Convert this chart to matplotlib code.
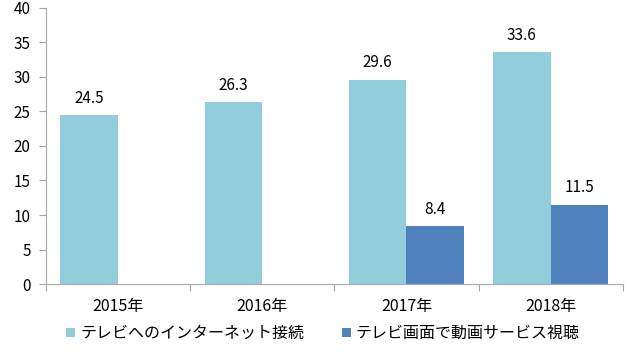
import numpy as np
import matplotlib
matplotlib.use("Agg")
import matplotlib.pyplot as plt

plt.rcParams['font.family'] = ['Noto Sans CJK JP', 'DejaVu Sans']

years = ["2015年", "2016年", "2017年", "2018年"]
netConnect = [24.5, 26.3, 29.6, 33.6]
videoService = [np.nan, np.nan, 8.4, 11.5]
seriesNames = ["テレビへのインターネット接続", "テレビ画面で動画サービス視聴"]

lightBlue, darkBlue = "#92CDDC", "#4F81BD"
axisGray = "#A6A6A6"

fig = plt.figure(figsize=(6.4, 3.6), dpi=100)
ax = fig.add_axes([0.072, 0.211, 0.901, 0.767])

x = np.arange(len(years))
w = 0.4
b1 = ax.bar(x - w/2, netConnect, w, color=lightBlue, label=seriesNames[0])
b2 = ax.bar(x + w/2, videoService, w, color=darkBlue, label=seriesNames[1])

for bars, vals in [(b1, netConnect), (b2, videoService)]:
    for rect, v in zip(bars, vals):
        if np.isnan(v):
            continue
        ax.annotate(f"{v:.1f}", (rect.get_x() + rect.get_width()/2, v),
                    xytext=(0, 6), textcoords="offset points",
                    ha="center", va="bottom", fontsize=11)

ax.set_xlim(-0.5, len(years) - 0.5)
ax.set_ylim(0, 40)
ax.set_yticks(np.arange(0, 41, 5))
ax.set_xticks(np.arange(-0.5, len(years), 1))
ax.set_xticklabels([])
ax.set_xticks(x, minor=True)
ax.set_xticklabels(years, minor=True)
ax.tick_params(axis="x", which="minor", length=0, pad=10, labelsize=11.5)
ax.tick_params(axis="x", which="major", length=5, color=axisGray, direction="out")
ax.tick_params(axis="y", length=5, color=axisGray, direction="out", labelsize=11, pad=6)

for side in ["top", "right"]:
    ax.spines[side].set_visible(False)
for side in ["left", "bottom"]:
    ax.spines[side].set_color(axisGray)

fig.legend(handles=[b1, b2], loc="lower center", bbox_to_anchor=(0.505, 0.01),
           ncol=2, frameon=False, fontsize=11.5, handlelength=0.55, handleheight=0.55,
           handletextpad=0.3, columnspacing=2.4)

plt.savefig("out.png", dpi=100)
plt.close()
